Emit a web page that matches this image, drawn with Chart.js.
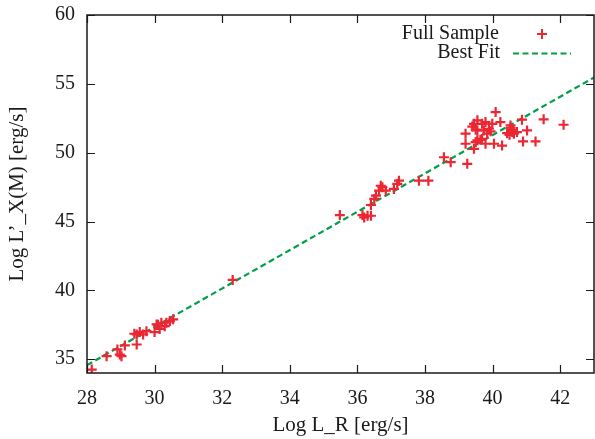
<!DOCTYPE html>
<html>
<head>
<meta charset="utf-8">
<script src="https://cdn.jsdelivr.net/npm/chart.js@4/dist/chart.umd.min.js"></script>
<style>
  html, body { margin: 0; padding: 0; background: #fff; }
  #wrap { width: 595px; height: 439px; }
</style>
</head>
<body>
<div id="wrap"><canvas id="c"></canvas></div>
<script>
// datos
const sampleX = [
  28.14, 28.58, 28.90, 28.97, 29.02, 29.12, 29.47, 29.47, 29.56, 29.66, 29.76, 30.00, 30.06, 30.20, 30.35, 30.45, 30.55, 30.30, 30.10, 29.40, 30.15,
  32.31,
  35.48, 36.15, 36.20, 36.30, 36.40, 36.40, 36.50, 36.55, 36.64, 36.74, 36.84, 37.08, 37.18, 37.23, 37.82, 38.10, 36.69,
  38.56, 38.76, 39.25, 39.20, 39.20, 39.45, 39.45, 39.55, 39.50, 39.55, 39.64, 39.79, 39.84, 39.89, 39.79, 39.99, 40.09, 40.04,
  40.23, 40.28, 40.43, 40.53, 40.58, 40.63, 40.72, 40.87, 40.90, 41.02, 41.27, 41.51, 42.10, 39.69, 39.55, 39.74, 39.94, 39.69,
  39.50, 40.53, 40.50, 40.60, 39.40
];
const sampleY = [
  34.25, 35.22, 35.71, 35.34, 35.22, 36.00, 36.07, 36.80, 36.97, 36.80, 37.04, 36.97, 37.53, 37.65, 37.65, 37.77, 37.90, 37.40, 37.50, 36.85, 37.20,
  40.76,
  45.47, 45.47, 45.30, 45.42, 45.42, 46.20, 46.64, 46.88, 47.24, 47.49, 47.24, 47.37, 47.73, 47.97, 47.97, 47.97, 47.60,
  49.67, 49.31, 49.19, 51.38, 50.65, 50.28, 52.10, 52.35, 51.67, 50.90, 50.94, 52.22, 51.38, 51.74, 50.65, 52.10, 52.95, 50.65,
  52.22, 50.52, 51.42, 51.81, 51.50, 51.38, 51.50, 52.40, 50.82, 51.62, 50.82, 52.42, 52.03, 52.10, 51.62, 51.62, 51.55, 51.00,
  50.77, 51.98, 51.30, 51.65, 51.90
];
const fitX = [28, 43];
const fitY = [34.57, 55.46];
const xTicks = [28, 30, 32, 34, 36, 38, 40, 42];
const yTicks = [35, 40, 45, 50, 55, 60];

const RED = 'rgb(236,38,50)';
const GREEN = 'rgb(0,160,72)';
const FONT = "'Liberation Serif', 'DejaVu Serif', serif";

// marco, marcas hacia dentro y leyenda estilo gnuplot
const framePlugin = {
  id: 'frame',
  afterDraw(chart) {
    const ctx = chart.ctx;
    const a = chart.chartArea;
    const xs = chart.scales.x, ys = chart.scales.y;
    ctx.save();
    ctx.strokeStyle = '#1a1a1a';
    ctx.lineWidth = 1.5;
    ctx.strokeRect(a.left, a.top, a.right - a.left, a.bottom - a.top);
    ctx.lineWidth = 1.2;
    const len = 8;
    ctx.beginPath();
    xTicks.forEach(v => {
      const px = Math.round(xs.getPixelForValue(v)) + 0.5;
      ctx.moveTo(px, a.bottom); ctx.lineTo(px, a.bottom - len);
      ctx.moveTo(px, a.top); ctx.lineTo(px, a.top + len);
    });
    yTicks.forEach(v => {
      const py = Math.round(ys.getPixelForValue(v)) + 0.5;
      ctx.moveTo(a.left, py); ctx.lineTo(a.left + len, py);
      ctx.moveTo(a.right, py); ctx.lineTo(a.right - len, py);
    });
    ctx.stroke();

    // leyenda
    ctx.fillStyle = '#1a1a1a';
    ctx.font = '20px ' + FONT;
    ctx.textAlign = 'right';
    ctx.textBaseline = 'middle';
    ctx.fillText('Full Sample', 499, 34);
    ctx.fillText('Best Fit', 500, 53);
    ctx.strokeStyle = RED;
    ctx.lineWidth = 2;
    ctx.beginPath();
    ctx.moveTo(537, 34); ctx.lineTo(547, 34);
    ctx.moveTo(542, 29); ctx.lineTo(542, 39);
    ctx.stroke();
    ctx.strokeStyle = GREEN;
    ctx.lineWidth = 2.2;
    ctx.setLineDash([6, 3.5]);
    ctx.beginPath();
    ctx.moveTo(513, 53.5); ctx.lineTo(571, 53.5);
    ctx.stroke();
    ctx.restore();
  }
};

function noOverhang(s) {
  s.paddingTop = 0; s.paddingBottom = 0; s.paddingLeft = 0; s.paddingRight = 0;
}

const chart = new Chart(document.getElementById('c'), {
  type: 'scatter',
  data: {
    datasets: [
      {
        label: 'Full Sample',
        data: sampleX.map((x, i) => ({ x: x, y: sampleY[i] })),
        pointStyle: 'cross',
        pointRadius: 5,
        pointHoverRadius: 5,
        borderColor: RED,
        backgroundColor: RED,
        borderWidth: 2.2
      },
      {
        label: 'Best Fit',
        type: 'line',
        data: fitX.map((x, i) => ({ x: x, y: fitY[i] })),
        borderColor: GREEN,
        borderWidth: 2.2,
        borderDash: [6, 3.5],
        pointRadius: 0,
        fill: false
      }
    ]
  },
  options: {
    responsive: true,
    maintainAspectRatio: false,
    animation: false,
    layout: { autoPadding: false, padding: { top: 15, right: 1, left: 0, bottom: 0 } },
    plugins: {
      legend: { display: false },
      tooltip: { enabled: false }
    },
    scales: {
      x: {
        type: 'linear',
        min: 28,
        max: 43,
        afterBuildTicks: s => { s.ticks = xTicks.map(v => ({ value: v })); },
        afterFit: s => { s.height = 66; noOverhang(s); },
        grid: { display: false, drawTicks: false },
        border: { display: false },
        ticks: { color: '#1a1a1a', font: { family: FONT, size: 20 }, padding: 14, maxRotation: 0 },
        title: { display: true, text: 'Log L_R [erg/s]', color: '#1a1a1a', font: { family: FONT, size: 21 }, padding: { top: 1, bottom: 1 } }
      },
      y: {
        type: 'linear',
        min: 34,
        max: 60,
        afterBuildTicks: s => { s.ticks = yTicks.map(v => ({ value: v })); },
        afterFit: s => { s.width = 87; noOverhang(s); },
        grid: { display: false, drawTicks: false },
        border: { display: false },
        ticks: { color: '#1a1a1a', font: { family: FONT, size: 20 }, padding: 12 },
        title: { display: true, text: 'Log L’_X(M) [erg/s]', color: '#1a1a1a', font: { family: FONT, size: 21 }, padding: { top: 5, bottom: 5 } }
      }
    }
  },
  plugins: [framePlugin]
});
</script>
</body>
</html>
